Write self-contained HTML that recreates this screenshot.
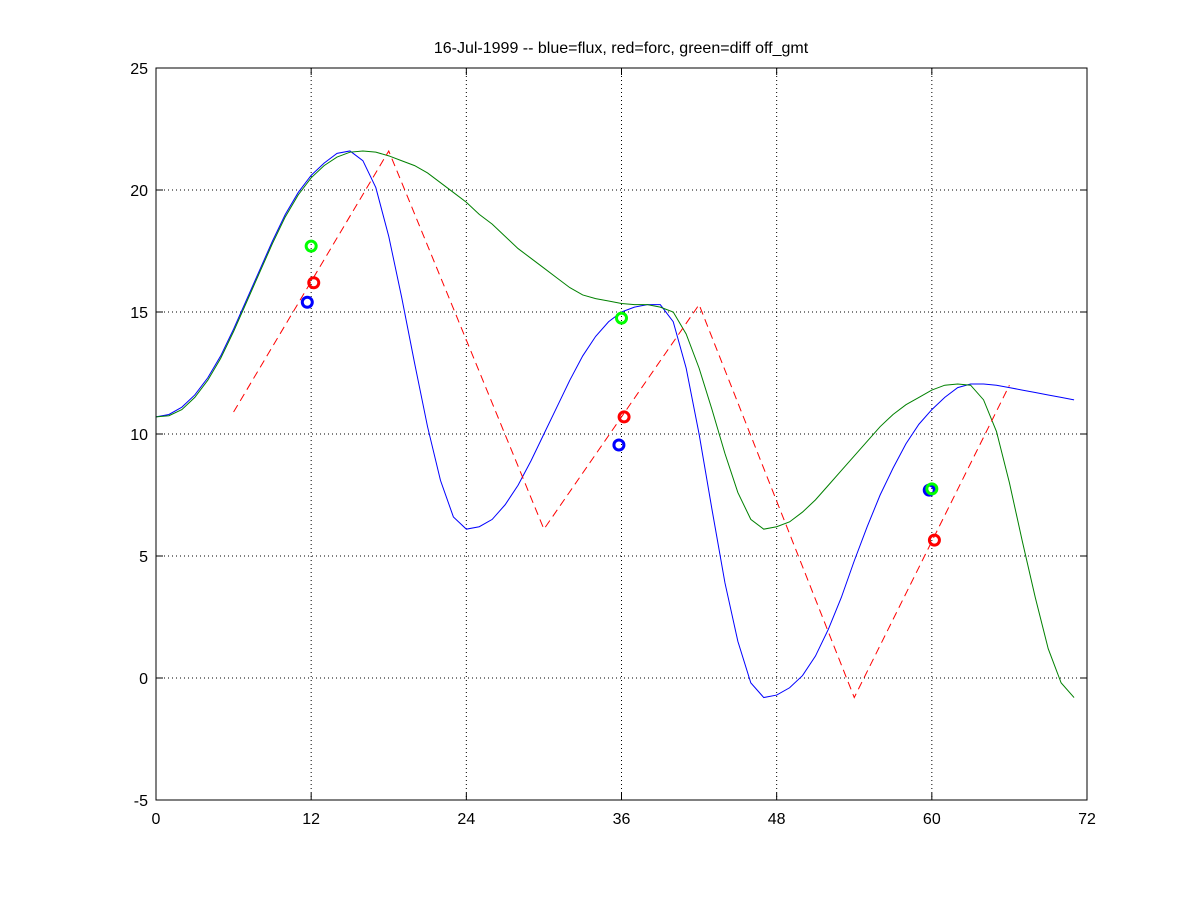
<!DOCTYPE html>
<html><head><meta charset="utf-8"><style>
body{margin:0;background:#fff}
svg text{font-family:"Liberation Sans",sans-serif;font-size:16px;fill:#000}
</style></head><body>
<svg id="chart" width="1200" height="900" xmlns="http://www.w3.org/2000/svg">
<rect width="1200" height="900" fill="#fff"/>
<g id="grid"></g>
<g id="series"></g>
<rect x="156" y="68" width="931" height="732" fill="none" stroke="#000" stroke-width="1"/>
<g id="axes"></g>
<text x="621" y="53" text-anchor="middle">16-Jul-1999 -- blue=flux, red=forc, green=diff off_gmt</text>
</svg>
<script>
const xTicks=[0,12,24,36,48,60,72];
const yTicks=[-5,0,5,10,15,20,25];
const blueVals=[10.7,10.8,11.1,11.6,12.3,13.2,14.3,15.5,16.7,17.9,19,19.9,20.6,21.1,21.5,21.6,21.2,20.1,18.1,15.6,12.9,10.3,8.1,6.6,6.1,6.2,6.5,7.1,7.9,8.9,10,11.1,12.2,13.2,14,14.6,15,15.2,15.3,15.3,14.6,12.7,10,6.9,3.9,1.5,-0.2,-0.8,-0.7,-0.4,0.1,0.9,2,3.3,4.8,6.2,7.5,8.6,9.6,10.4,11,11.5,11.9,12.05,12.05,12,11.9,11.8,11.7,11.6,11.5,11.4];
const greenVals=[10.7,10.75,11.0,11.5,12.2,13.1,14.2,15.4,16.6,17.8,18.9,19.8,20.5,21.0,21.35,21.55,21.6,21.55,21.4,21.2,21,20.7,20.3,19.9,19.5,19.0,18.6,18.1,17.6,17.2,16.8,16.4,16.0,15.7,15.55,15.45,15.35,15.3,15.3,15.2,15,14.1,12.7,11,9.2,7.6,6.5,6.1,6.2,6.4,6.8,7.3,7.9,8.5,9.1,9.7,10.3,10.8,11.2,11.5,11.8,12,12.05,12,11.4,10.1,8,5.6,3.3,1.2,-0.2,-0.8];
const redX=[6,18,30,42,54,66];
const redVals=[10.9,21.6,6.1,15.3,-0.8,12];
const circleX={blue:[11.7,35.8,59.8],red:[12.2,36.2,60.2],green:[12,36,60]};
const circleY={blue:[15.4,9.55,7.7],red:[16.2,10.7,5.65],green:[17.7,14.75,7.75]};
const X0=156,X1=1087,Y0=800,Y1=68;
const sx=v=>X0+(v-0)/72*(X1-X0);
const sy=v=>Y0-(v+5)/30*(Y0-Y1);
const NS="http://www.w3.org/2000/svg";
function mk(t,a,p){const e=document.createElementNS(NS,t);for(const k in a)e.setAttribute(k,a[k]);p.appendChild(e);return e;}
const grid=document.getElementById('grid'),axes=document.getElementById('axes'),ser=document.getElementById('series');
xTicks.forEach(t=>{const x=sx(t);
 if(t>0&&t<72){const g=mk('line',{x1:x,x2:x,y1:Y1,y2:Y0,stroke:'#000','stroke-dasharray':'1,3'},grid);
 }
 const a=mk('line',{x1:x,x2:x,y1:Y0,y2:Y0-7,stroke:'#000'},axes);
 const b=mk('line',{x1:x,x2:x,y1:Y1,y2:Y1+7,stroke:'#000'},axes);
 const l=mk('text',{x:x,y:Y0+24,'text-anchor':'middle'},axes);l.textContent=t;
 });
yTicks.forEach(t=>{const y=sy(t);
 if(t>-5&&t<25){const g=mk('line',{x1:X0,x2:X1,y1:y,y2:y,stroke:'#000','stroke-dasharray':'1,3'},grid);
 }
 const a=mk('line',{x1:X0,x2:X0+7,y1:y,y2:y,stroke:'#000'},axes);
 const b=mk('line',{x1:X1,x2:X1-7,y1:y,y2:y,stroke:'#000'},axes);
 const l=mk('text',{x:X0-8,y:y+6,'text-anchor':'end'},axes);l.textContent=t;
 });
function line(xs,ys,color,dash,name){const p=mk('polyline',{points:xs.map((x,i)=>sx(x)+','+sy(ys[i])).join(' '),fill:'none',stroke:color,'stroke-width':1},ser);
 if(dash)p.setAttribute('stroke-dasharray',dash);
 }
line(blueVals.map((_,i)=>i),blueVals,'#0000ff',null,'flux-line');
line(greenVals.map((_,i)=>i),greenVals,'#008000',null,'diff-line');
line(redX,redVals,'#ff0000','8,5','forc-line');
[['blue','#0000ff'],['red','#ff0000'],['green','#00ff00']].forEach(([k,c])=>{
 circleX[k].forEach((x,i)=>{const e=mk('circle',{cx:sx(x),cy:sy(circleY[k][i]),r:5,fill:'none',stroke:c,'stroke-width':3},ser);
 });});
</script>
</body></html>
